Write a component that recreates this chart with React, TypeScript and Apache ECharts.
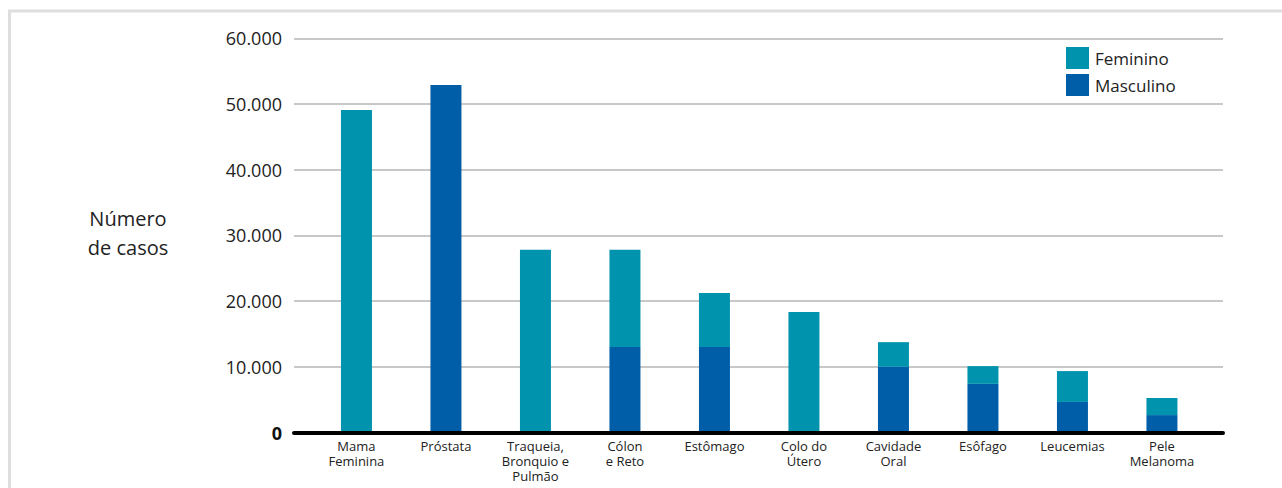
import React, { useEffect, useRef } from "react";
import * as echarts from "echarts";

const categories = [
  "Mama\nFeminina",
  "Próstata",
  "Traqueia,\nBronquio e\nPulmão",
  "Cólon\ne Reto",
  "Estômago",
  "Colo do\nÚtero",
  "Cavidade\nOral",
  "Esôfago",
  "Leucemias",
  "Pele\nMelanoma",
];
const masculino = [0, 52900, 0, 13000, 13000, 0, 10000, 7400, 4650, 2650];
const feminino = [49100, 0, 27800, 14800, 8250, 18350, 3750, 2700, 4700, 2600];
const yTicks = { min: 0, max: 60000, interval: 10000 };
const yAxisTitle = "Número\nde casos";

const TEAL = "#0093AE";
const BLUE = "#005EA8";
const FONT = "'Open Sans', sans-serif";

function fmt(v: number): string {
  if (v === 0) return "{b|0}";
  return String(v).replace(/\B(?=(\d{3})+(?!\d))/g, ".");
}

export default function App() {
  const ref = useRef<HTMLDivElement>(null);
  useEffect(() => {
    if (!ref.current) return;
    const chart = echarts.init(ref.current, undefined, { renderer: "svg" });
    const top = 38.3;
    const bottom = 55.5;
    chart.setOption({
      animation: false,
      textStyle: { fontFamily: FONT },
      graphic: [
        {
          type: "rect",
          shape: { x: 9.5, y: 11, width: 1400, height: 600 },
          style: { fill: "none", stroke: "#dedede", lineWidth: 3 },
          silent: true,
        },
        {
          type: "text",
          x: 128,
          y: 233,
          style: {
            text: yAxisTitle,
            fill: "#222",
            font: `20px ${FONT}`,
            lineHeight: 29,
            align: "center",
            verticalAlign: "middle",
          },
        },
      ],
      legend: {
        data: ["Feminino", "Masculino"],
        orient: "vertical",
        left: 1066,
        top: 47,
        padding: 0,
        itemWidth: 23,
        itemHeight: 22,
        itemGap: 5,
        icon: "rect",
        textStyle: { fontSize: 17, color: "#222", fontFamily: FONT, padding: [0, 0, 0, 1] },
      },
      grid: [
        { left: 294, right: 59, top, bottom },
        { left: 311.7, right: 75.3, top, bottom },
      ],
      xAxis: [
        {
          gridIndex: 0,
          type: "value",
          min: 0,
          max: 1,
          z: 10,
          axisLine: { show: true, onZero: false, lineStyle: { color: "#000", width: 4 } },
          axisTick: { show: false },
          axisLabel: { show: false },
          splitLine: { show: false },
        },
        {
          gridIndex: 1,
          type: "category",
          data: categories,
          axisLine: { show: false },
          axisTick: { show: false },
          axisLabel: {
            interval: 0,
            margin: 6,
            fontSize: 13,
            lineHeight: 15,
            color: "#222",
            fontFamily: FONT,
            verticalAlign: "top",
          },
        },
      ],
      yAxis: [
        {
          gridIndex: 0,
          type: "value",
          ...yTicks,
          axisLine: { show: false },
          axisTick: { show: false },
          splitLine: { lineStyle: { color: "#c8c8c8", width: 2 } },
          axisLabel: {
            margin: 12,
            fontSize: 18,
            color: "#222",
            fontFamily: FONT,
            formatter: fmt,
            rich: { b: { fontSize: 18, fontWeight: "bold", color: "#111", fontFamily: FONT } },
          },
        },
        {
          gridIndex: 1,
          type: "value",
          ...yTicks,
          show: false,
          splitLine: { show: false },
        },
      ],
      series: [
        {
          name: "Masculino",
          type: "bar",
          stack: "total",
          xAxisIndex: 1,
          yAxisIndex: 1,
          barWidth: 31,
          itemStyle: { color: BLUE },
          data: masculino,
        },
        {
          name: "Feminino",
          type: "bar",
          stack: "total",
          xAxisIndex: 1,
          yAxisIndex: 1,
          barWidth: 31,
          itemStyle: { color: TEAL },
          data: feminino,
        },
      ],
    });
    return () => chart.dispose();
  }, []);
  return (
    <div
      ref={ref}
      style={{ position: "absolute", left: 0, top: 0, width: 1282, height: 488, background: "#fff" }}
    />
  );
}
